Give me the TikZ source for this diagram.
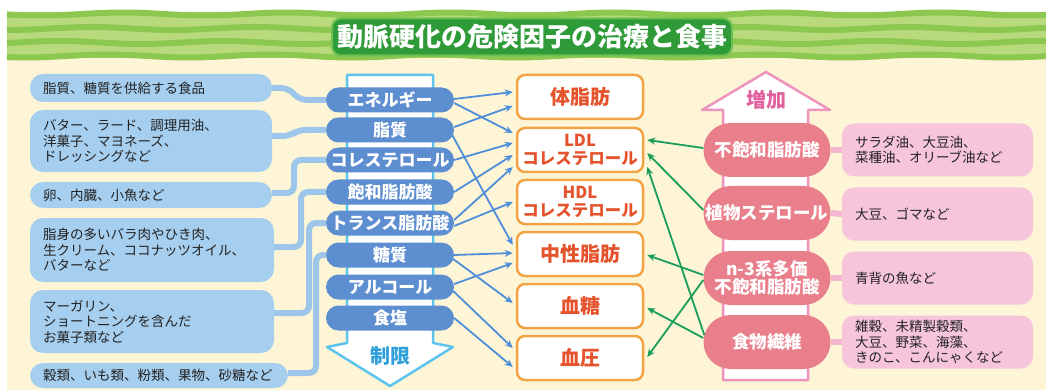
\documentclass[tikz,border=0pt]{standalone}
\usepackage{fontspec}
\setmainfont{Noto Sans CJK JP}
\usetikzlibrary{arrows.meta,calc}
\pgfdeclarelayer{back}
\pgfdeclarelayer{conn}
\pgfsetlayers{back,conn,main}
\definecolor{cream}{HTML}{FDF5D6}
\definecolor{glight}{HTML}{B9DA7C}
\definecolor{gdark}{HTML}{8CC84F}
\definecolor{gtitle}{HTML}{2F9A38}
\definecolor{gtitleb}{HTML}{6CC04F}
\definecolor{lblue}{HTML}{A6CEEE}
\definecolor{lconnc}{HTML}{9DC6EA}
\definecolor{pillblue}{HTML}{5C8ED0}
\definecolor{arrblue}{HTML}{4F8ED8}
\definecolor{obord}{HTML}{F2A444}
\definecolor{otext}{HTML}{E5532D}
\definecolor{cyanout}{HTML}{5EC4EE}
\definecolor{cyantext}{HTML}{2FA0D9}
\definecolor{pinkout}{HTML}{EE93BD}
\definecolor{pinktext}{HTML}{E2629F}
\definecolor{pillpink}{HTML}{EA7F8C}
\definecolor{lpink}{HTML}{F6C5DC}
\definecolor{pinkbar}{HTML}{F3B5CF}
\definecolor{garrow}{HTML}{1A9E5C}
\definecolor{tblack}{HTML}{222222}
\begin{document}
\begin{tikzpicture}[x=1pt,y=-1pt,
  lbox/.style={fill=lblue, rounded corners=13pt, inner xsep=0pt, inner ysep=2pt, align=left, text=tblack, font=\fontsize{13.5}{15.5}\selectfont},
  bpill/.style={fill=pillblue, rounded corners=12.5pt, minimum width=128pt, minimum height=25pt, inner sep=0pt, text=white, font=\bfseries\fontsize{17}{19}\selectfont},
  obox/.style={draw=obord, line width=2.5pt, fill=white, rounded corners=8pt, minimum width=126pt, minimum height=44pt, inner sep=0pt, align=center, text=otext},
  big/.style={font=\bfseries\fontsize{20}{22}\selectfont},
  small/.style={font=\bfseries\fontsize{16.5}{18}\selectfont},
  ppill/.style={fill=pillpink, rounded corners=27pt, minimum width=127pt, minimum height=54pt, inner sep=0pt, align=center, text=white, font=\bfseries\fontsize{17.5}{18.5}\selectfont},
  rbox/.style={fill=lpink, rounded corners=12pt, minimum width=191pt, minimum height=53pt, inner xsep=0pt, text width=165pt, align=left, text=tblack, font=\fontsize{13.5}{15.5}\selectfont},
  lconn/.style={draw=lconnc, line width=6pt, rounded corners=7pt},
  pconn/.style={draw=pinkbar, line width=6pt},
  barr/.style={draw=arrblue, line width=1.8pt, -{Stealth[length=8pt,width=7pt]}},
  garr/.style={draw=garrow, line width=1.8pt, -{Stealth[length=8pt,width=7pt]}},
]
\useasboundingbox (0,0) rectangle (1046,390);
\begin{pgfonlayer}{back}
\fill[white] (0,0) rectangle (1046,390);
\fill[cream] (7,58) rectangle (1046,390);
\fill[glight] (7,12) rectangle (1046,58);
\foreach \yy/\ph in {14/0,28.5/70,42.5/140,56/35}
  \draw[gdark, line width=6pt] plot[domain=7:1046, samples=160] (\x,{\yy+1.5*sin(2.2*\x+\ph)});
% restriction arrow (down)
\draw[cyanout, line width=2.5pt, fill=white, line join=round] (347,75) -- (433,75) -- (433,343) -- (453,347) -- (390,386) -- (327,347) -- (347,343) -- cycle;
% increase arrow (up)
\draw[pinkout, line width=2.5pt, fill=white, line join=round] (723,380) -- (723,110) -- (702,110) -- (766,72) -- (830,110) -- (808,110) -- (808,380) -- cycle;
\end{pgfonlayer}

% title
\node[fill=gtitle, draw=gtitleb, line width=2pt, rounded corners=9pt, minimum width=400pt, minimum height=37pt, inner sep=0pt, text=white, font=\bfseries\fontsize{26}{28}\selectfont] (title) at (532,37) {動脈硬化の危険因子の治療と食事};

% left food boxes
\node[lbox, minimum width=242pt, minimum height=28pt, text width=216pt] (l1) at (151,88) {脂質、糖質を供給する食品};
\node[lbox, minimum width=242pt, minimum height=62pt, text width=216pt] (l2) at (151,141) {バター、ラード、調理用油、\\洋菓子、マヨネーズ、\\ドレッシングなど};
\node[lbox, minimum width=242pt, minimum height=26pt, text width=216pt] (l3) at (151,195) {卵、内臓、小魚など};
\node[lbox, minimum width=244pt, minimum height=64pt, text width=218pt] (l4) at (152,250) {脂身の多いバラ肉やひき肉、\\生クリーム、ココナッツオイル、\\バターなど};
\node[lbox, minimum width=244pt, minimum height=63pt, text width=218pt] (l5) at (152,321.5) {マーガリン、\\ショートニングを含んだ\\お菓子類など};
\node[lbox, minimum width=258pt, minimum height=25pt, text width=232pt] (l6) at (159,375.5) {穀類、いも類、粉類、果物、砂糖など};

% blue pills
\node[bpill] (e1) at (390,100) {エネルギー};
\node[bpill] (e2) at (390,130) {脂質};
\node[bpill] (e3) at (390,160) {コレステロール};
\node[bpill] (e4) at (390,192) {飽和脂肪酸};
\node[bpill] (e5) at (390,223) {トランス脂肪酸};
\node[bpill] (e6) at (390,255) {糖質};
\node[bpill] (e7) at (390,287) {アルコール};
\node[bpill] (e8) at (390,318) {食塩};
\node[text=cyantext, font=\bfseries\fontsize{20}{22}\selectfont, inner sep=0pt] (limit) at (390,356) {制限};

% left connectors
\begin{pgfonlayer}{conn}
\draw[lconn] (l1.east) -- (288,88) -- (300,100) -- (e1.west);
\draw[lconn] ($(l2.east)+(0,-5)$) -- (290,136) -- (298,130) -- (e2.west);
\draw[lconn] ($(l3.east)+(0,-2)$) -- (294,193) -- (294,160) -- (e3.west);
\draw[lconn] ($(l4.east)+(0,-3)$) -- (301,247) -- (301,192) -- (e4.west);
\draw[lconn] ($(l5.east)+(0,-8.5)$) -- (309,313) -- (309,223) -- (e5.west);
\draw[lconn] ($(l6.east)+(0,-2.5)$) -- (316,373) -- (316,255) -- (e6.west);
\end{pgfonlayer}

% orange boxes
\node[obox, big] (o1) at (580,97) {体脂肪};
\node[obox, small] (o2) at (580,150) {LDL\\コレステロール};
\node[obox, small] (o3) at (580,202) {HDL\\コレステロール};
\node[obox, big] (o4) at (580,254) {中性脂肪};
\node[obox, big] (o5) at (580,306) {血糖};
\node[obox, big] (o6) at (580,358) {血圧};

% pink pills
\node[text=pinktext, font=\bfseries\fontsize{20}{22}\selectfont, inner sep=0pt] (inc) at (766,100) {増加};
\node[ppill] (p1) at (767,150) {不飽和脂肪酸};
\node[ppill] (p2) at (767,213) {植物ステロール};
\node[ppill] (p3) at (767,278) {n-3系多価\\不飽和脂肪酸};
\node[ppill] (p4) at (767,342) {食物繊維};

% right boxes
\node[rbox] (r1) at (937.5,150) {サラダ油、大豆油、\\菜種油、オリーブ油など};
\node[rbox] (r2) at (937.5,214) {大豆、ゴマなど};
\node[rbox] (r3) at (937.5,278) {青背の魚など};
\node[rbox] (r4) at (937.5,342) {雑穀、未精製穀類、\\大豆、野菜、海藻、\\きのこ、こんにゃくなど};
\foreach \i in {1,2,3,4} \draw[pconn] (p\i.east) -- (r\i.west);

% blue arrows
\draw[barr] ($(e1.east)+(0,-1)$) -- ($(o1.west)+(-3,-5)$);
\draw[barr] ($(e1.east)+(0,3)$) -- ($(o2.west)+(-3,-17)$);
\draw[barr] ($(e2.east)+(0,-3)$) -- ($(o1.west)+(-3,9)$);
\draw[barr] ($(e2.east)+(-2,5)$) -- ($(o4.west)+(-3,-9)$);
\draw[barr] (e3.east) -- ($(o2.west)+(-3,-7)$);
\draw[barr] (e4.east) -- ($(o2.west)+(-3,5)$);
\draw[barr] ($(e5.east)+(0,-3)$) -- ($(o2.west)+(-3,17)$);
\draw[barr] ($(e5.east)+(0,3)$) -- ($(o3.west)+(-3,0)$);
\draw[barr] (e6.east) -- ($(o4.west)+(-3,-1)$);
\draw[barr] ($(e6.east)+(-1,4)$) -- ($(o5.west)+(-3,-3)$);
\draw[barr] ($(e7.east)+(0,-3)$) -- ($(o4.west)+(-3,9)$);
\draw[barr] ($(e7.east)+(-1,4)$) -- ($(o6.west)+(-3,-10)$);
\draw[barr] (e8.east) -- ($(o6.west)+(-3,9)$);

% green arrows
\draw[garr] ($(p1.west)+(0,-2)$) -- ($(o2.east)+(3,-10)$);
\draw[garr] ($(p2.west)+(0,-3)$) -- ($(o2.east)+(3,3)$);
\draw[garr] ($(p4.west)+(1,-7)$) -- ($(o2.east)+(3,17)$);
\draw[garr] ($(p3.west)+(0,-3)$) -- ($(o4.east)+(3,1)$);
\draw[garr] ($(p3.west)+(0,2)$) -- ($(o6.east)+(3,-1)$);
\draw[garr] ($(p4.west)+(0,-4)$) -- ($(o5.east)+(3,2)$);
\end{tikzpicture}
\end{document}
